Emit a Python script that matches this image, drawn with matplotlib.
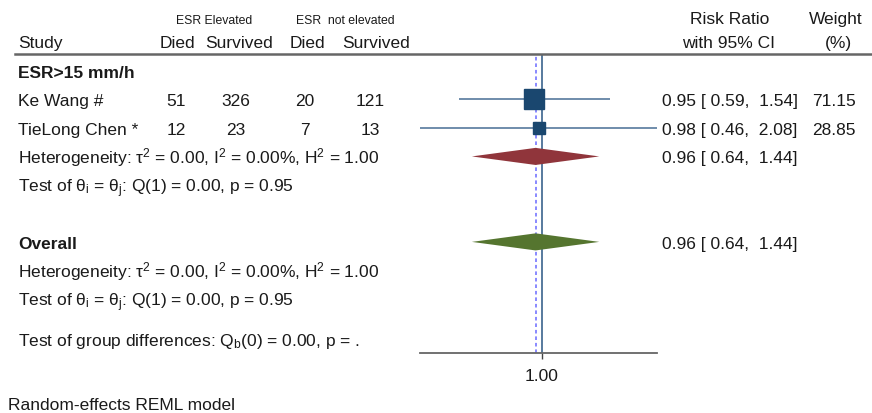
import matplotlib
matplotlib.use("Agg")
import matplotlib.pyplot as plt
from matplotlib.lines import Line2D
from matplotlib.transforms import blended_transform_factory
import numpy as np

plt.rcParams['font.family'] = ['Liberation Sans', 'DejaVu Sans']
plt.rcParams['mathtext.fontset'] = 'custom'
plt.rcParams['mathtext.rm'] = 'Liberation Sans'
plt.rcParams['mathtext.it'] = 'Liberation Sans:italic'
plt.rcParams['mathtext.bf'] = 'Liberation Sans:bold'
plt.rcParams['mathtext.default'] = 'regular'

# data
studies = ["Ke Wang #", "TieLong Chen *"]
died_el = [51, 12]
surv_el = [326, 23]
died_ne = [20, 7]
surv_ne = [121, 13]
rr = [0.95, 0.98]
rr_lo = [0.59, 0.46]
rr_hi = [1.54, 2.08]
weight = [71.15, 28.85]

group_label = "ESR>15 mm/h"
group_est = (0.96, 0.64, 1.44)
overall_est = (0.96, 0.64, 1.44)
het_text = r"Heterogeneity: $\tau^{2}$ = 0.00, $I^{2}$ = 0.00%, $H^{2}$ = 1.00"
test_text = r"Test of $\theta_{i}$ = $\theta_{j}$: Q(1) = 0.00, p = 0.95"
diff_text = r"Test of group differences: $Q_{b}$(0) = 0.00, p = ."

navy = "#1a476f"
ci_col = "#6f8cab"
maroon = "#90353b"
green = "#55752f"
txt = "#1a1a1a"

W, H = 872, 414
fig = plt.figure(figsize=(W / 100, H / 100), dpi=100)

def fx(px):
    return px / W

def fy(py):
    return 1 - py / H

ax = fig.add_axes([fx(420), fy(354), fx(657) - fx(420), fy(56) - fy(354)])
ax.set_xscale("log")
ax.set_xlim(0.46, 2.08)
ax.set_ylim(9.9, -0.56)
for s in ["top", "left", "right"]:
    ax.spines[s].set_visible(False)
ax.spines["bottom"].set_color("#666666")
ax.spines["bottom"].set_linewidth(1.3)
ax.set_yticks([])
ax.set_xticks([1.0])
ax.set_xticklabels(["1.00"])
ax.xaxis.set_minor_locator(matplotlib.ticker.NullLocator())
ax.tick_params(axis="x", length=4.5, width=1, color="#444444", labelsize=12.5,
               labelcolor=txt, pad=6)

# reference lines
ax.axvline(1.0, color="#4a6f96", lw=1.3, zorder=1)
ax.axvline(overall_est[0], color="#8080ff", lw=1.3, ls=(0, (2, 1.6)), zorder=1)

# study rows
rows = [1, 2]
wmax = max(weight)
for r, e, lo, hi, w in zip(rows, rr, rr_lo, rr_hi, weight):
    ax.plot([lo, hi], [r, r], color=ci_col, lw=1.4, zorder=2, solid_capstyle="butt")
    ax.plot([e], [r], marker="s", ms=14.6 * np.sqrt(w / wmax), color=navy,
            mec=navy, zorder=3)

def diamond(row, est, color):
    e, lo, hi = est
    h = 0.3
    ax.fill([lo, e, hi, e], [row, row - h, row, row + h], color=color, lw=0, zorder=3)

diamond(3, group_est, maroon)
diamond(6, overall_est, green)

# text columns
tr = blended_transform_factory(fig.transFigure, ax.transData)
fs = 12.5
base = 0.21  # baseline sits a little below the row centre

def t(px, row, s, ha="left", **kw):
    ax.text(fx(px), row + base, s, transform=tr, ha=ha, va="baseline", fontsize=fs,
            color=txt, **kw)

t(18, 0, group_label, weight="bold")
for r, name, a, b, c, d, e, lo, hi, w in zip(rows, studies, died_el, surv_el,
                                             died_ne, surv_ne, rr, rr_lo, rr_hi, weight):
    t(18, r, name)
    t(176, r, str(a), ha="center")
    t(236, r, str(b), ha="center")
    t(305, r, str(c), ha="center")
    t(370, r, str(d), ha="center")
    t(662, r, f"{e:.2f} [{lo:5.2f}, {hi:5.2f}]")
    t(834, r, f"{w:.2f}", ha="center")

t(18, 3, het_text)
t(662, 3, f"{group_est[0]:.2f} [{group_est[1]:5.2f}, {group_est[2]:5.2f}]")
t(18, 4, test_text)
t(18, 6, "Overall", weight="bold")
t(662, 6, f"{overall_est[0]:.2f} [{overall_est[1]:5.2f}, {overall_est[2]:5.2f}]")
t(18, 7, het_text)
t(18, 8, test_text)
t(18, 9.4, diff_text)

# header
def ft(px, py, s, ha="left", size=fs, **kw):
    fig.text(fx(px), fy(py), s, ha=ha, va="center_baseline", fontsize=size,
             color=txt, **kw)

ft(214, 20, "ESR Elevated", ha="center", size=8.8)
ft(345, 20, "ESR  not elevated", ha="center", size=8.8)
ft(18, 42, "Study")
ft(177, 42, "Died", ha="center")
ft(239, 42, "Survived", ha="center")
ft(307, 42, "Died", ha="center")
ft(376, 42, "Survived", ha="center")
ft(730, 18, "Risk Ratio", ha="center")
ft(729, 42, "with 95% CI", ha="center")
ft(836, 18, "Weight", ha="center")
ft(838, 42, "(%)", ha="center")
fig.add_artist(Line2D([fx(15), fx(871)], [fy(55), fy(55)], color="#666666", lw=1.8))

ft(8, 404, "Random-effects REML model")

fig.savefig("out.png", dpi=100)
